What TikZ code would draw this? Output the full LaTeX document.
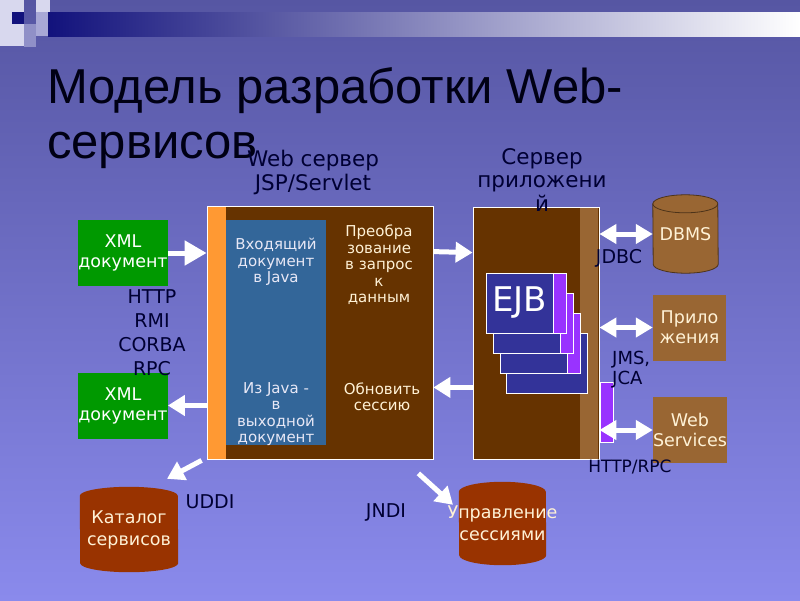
\documentclass[tikz,border=0pt]{standalone}
\usepackage{fontspec}
\setmainfont{DejaVu Sans}
\newfontfamily\titlefont{Liberation Sans}
\usepackage{tikz}
\usetikzlibrary{arrows.meta,positioning}
\definecolor{SlideTop}{HTML}{5656A3}
\definecolor{SlideBottom}{HTML}{8A8AEC}
\definecolor{BarNavy}{HTML}{12127C}
\definecolor{BarMid}{HTML}{7676BC}
\definecolor{SquareLight}{HTML}{D8D8EE}
\definecolor{SquareMid}{HTML}{A8A8D6}
\definecolor{ServerBrown}{HTML}{663300}
\definecolor{StripeOrange}{HTML}{FF9933}
\definecolor{JavaBlue}{HTML}{336699}
\definecolor{LightBrown}{HTML}{996633}
\definecolor{DbOutline}{HTML}{4D3319}
\definecolor{EjbNavy}{HTML}{333399}
\definecolor{EjbPurple}{HTML}{9933FF}
\definecolor{XmlGreen}{HTML}{009900}
\definecolor{Rust}{HTML}{993300}
\definecolor{Cream}{HTML}{FFF2D6}
\definecolor{PanelText}{HTML}{E8E8F6}
\definecolor{InkNavy}{HTML}{000033}
% drum body round a node: [options]{node}{half width}{cap radius}
\newcommand{\drum}[4][]{%
  \path[#1] ([yshift=-#4]#2.north west) arc[start angle=180,end angle=0,x radius=#3,y radius=#4]
    -- ([yshift=#4]#2.south east) arc[start angle=0,end angle=-180,x radius=#3,y radius=#4] -- cycle;}

\begin{document}
\begin{tikzpicture}[
  x=1pt,y=-1pt,
  every node/.style={align=center,inner sep=0pt},
  server/.style={draw=white,line width=0.8pt,fill=ServerBrown},
  panel/.style={fill=JavaBlue,minimum width=100pt,minimum height=225pt},
  card/.style={draw=white,line width=0.6pt,fill=EjbNavy,minimum width=67pt,minimum height=60pt},
  tab/.style={draw=white,line width=0.6pt,fill=EjbPurple,minimum width=13pt,minimum height=60pt},
  xmlbox/.style={fill=XmlGreen,text=white,minimum width=86pt,minimum height=66pt,font=\fontsize{17.5}{20}\selectfont},
  extbox/.style={fill=LightBrown,text=Cream,minimum width=73pt,minimum height=66pt,font=\fontsize{17.5}{20}\selectfont},
  storetext/.style={text=Cream,font=\fontsize{17.5}{22}\selectfont},
  inner/.style={text=Cream,font=\fontsize{15}{16.5}\selectfont},
  header/.style={text=InkNavy,font=\fontsize{21.5}{23.5}\selectfont},
  proto/.style={text=InkNavy,font=\fontsize{19}{24}\selectfont},
  arrow/.style={-{Triangle[length=17pt,width=20pt]},line width=5pt,white},
  biarrow/.style={{Triangle[length=17pt,width=19pt]}-{Triangle[length=17pt,width=19pt]},line width=5pt,white}
]
\useasboundingbox (0,0) rectangle (800,600);
\shade[top color=SlideTop,bottom color=SlideBottom] (0,0) rectangle (800,600);
% top bar and corner squares
\shade[left color=BarNavy,middle color=BarMid,right color=white] (48,12) rectangle (800,36);
\fill[SquareLight] (0,0) rectangle (24,46);
\fill[BarNavy] (12,12) rectangle (24,24);
\fill[SquareMid,opacity=0.7] (24,24) rectangle (36,47);
\fill[SquareLight] (36,0) rectangle (50,12);
\fill[SquareMid] (36,12) rectangle (48,36);

\node[anchor=north west,align=left,text=black!92!blue,font=\titlefont\fontsize{49}{55}\selectfont] (title) at (47,67) {Модель разработки Web-\\сервисов};

% web server
\node[server,minimum width=226pt,minimum height=253pt] (web) at (320,332.5) {};
\node[fill=StripeOrange,minimum width=18pt,minimum height=252pt] (jsp) at (217,332.5) {};
\node[panel] (java) at (276,332.5) {};
\node[inner,text=PanelText] (injava) at (276,262) {Входящий\\документ\\в Java};
\node[inner,text=PanelText] (outjava) at (276,414) {Из Java -\\в\\выходной\\документ};
\node[inner] (query) at (379,265) {Преобра\\зование\\в запрос\\к\\данным};
\node[inner] (update) at (382,397) {Обновить\\сессию};
\node[header,above=11pt of web,xshift=-7pt] (webhead) {Web сервер\\JSP/Servlet};

% application server
\node[server,minimum width=126pt,minimum height=252pt] (app) at (536,333) {};
\node[fill=LightBrown,minimum width=18pt,minimum height=251pt] (appedge) at (589,333) {};
\node[header,above=-5pt of app,xshift=6pt] (apphead) {Сервер\\приложени\\й};
\node[card,minimum width=81pt] (card3) at (546.5,363) {};
\foreach \i in {2,1} {
  \node[card] (card\i) at (519.5+7*\i,303+20*\i) {};
  \node[tab,right=0pt of card\i] (tab\i) {};
}
\node[card,text=white,font=\fontsize{34}{34}\selectfont] (ejb) at (519.5,303) {EJB};
\node[tab,right=0pt of ejb] (ejbtab) {};
\node[tab] (wsport) at (606.5,412) {};

% clients and resources
\node[xmlbox] (xmlin) at (123,253) {XML\\документ};
\node[xmlbox] (xmlout) at (123,405.5) {XML\\документ};
\node[proto] (protos) at (152,333) {HTTP\\RMI\\CORBA\\RPC};
\node[minimum width=65pt,minimum height=78pt] (dbms) at (685.5,234) {};
\drum[fill=LightBrown,draw=DbOutline,line width=0.8pt]{dbms}{32.5pt}{9pt}
\draw[DbOutline,line width=0.8pt] ([yshift=-9pt]dbms.north west) arc[start angle=180,end angle=360,x radius=32.5pt,y radius=9pt];
\node[storetext] at (dbms.center) {DBMS};
\node[extbox] (apps) at (689.5,327.5) {Прило\\жения};
\node[extbox,minimum width=74pt] (ws) at (690,430) {Web\\Services};
\node[proto] (jdbc) at (619,258) {JDBC};
\node[proto,anchor=west,align=left,font=\fontsize{18}{20}\selectfont] (jms) at (612,370) {JMS,\\JCA};
\node[proto,font=\fontsize{17}{20}\selectfont] (httprpc) at (630,467) {HTTP/RPC};
\node[minimum width=98pt,minimum height=85pt] (catalog) at (129,529.5) {};
\drum[fill=Rust]{catalog}{49pt}{9pt}
\node[storetext] at (catalog.center) {Каталог\\сервисов};
\node[minimum width=87pt,minimum height=83pt] (session) at (502.5,523.5) {};
\drum[fill=Rust]{session}{43.5pt}{10pt}
\node[storetext] at (session.center) {Управление\\сессиями};
\node[proto] (uddi) at (210,502) {UDDI};
\node[proto] (jndi) at (386,512) {JNDI};

\draw[arrow,-{Triangle[length=22pt,width=24pt]}] (xmlin.east) -- (xmlin.east -| web.west);
\draw[arrow] (web.west |- xmlout.east) -- (xmlout.east);
\draw[arrow] ([yshift=-46pt]web.north east) -- ([yshift=-46pt]app.north west);
\draw[arrow] ([yshift=72pt]app.south west) -- ([yshift=72pt]web.south east);
\draw[biarrow] (dbms.west -| app.east) -- (dbms.west);
\draw[biarrow] (apps.west -| app.east) -- (apps.west);
\draw[biarrow] (ws.west -| app.east) -- (ws.west);
\draw[arrow] ([shift={(-5pt,-1pt)}]web.south west) -- ([shift={(38pt,8pt)}]catalog.north);
\draw[arrow] ([shift={(-15pt,-14pt)}]web.south east) -- ([shift={(-49.5pt,-23pt)}]session.north);
\end{tikzpicture}
\end{document}
